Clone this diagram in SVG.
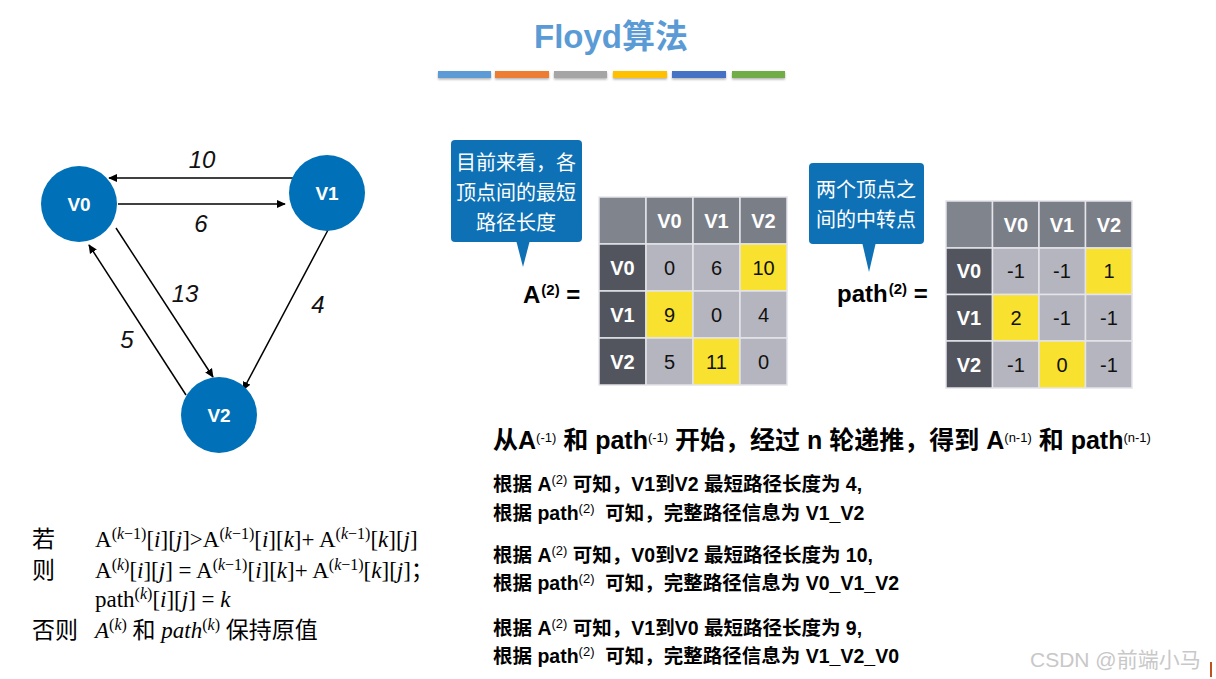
<svg xmlns="http://www.w3.org/2000/svg" width="1216" height="679" viewBox="0 0 1216 679">
<defs>
<marker id="arr" viewBox="0 0 10 10" refX="9" refY="5" markerWidth="9" markerHeight="9" markerUnits="userSpaceOnUse" orient="auto"><path d="M0,0.5 L10,5 L0,9.5 z" fill="#000"/></marker>
<filter id="sh" x="-10%" y="-50%" width="120%" height="250%"><feDropShadow dx="0" dy="1.5" stdDeviation="1" flood-color="#000" flood-opacity="0.3"/></filter>
</defs>
<style>
.sans{font-family:"Liberation Sans","Noto Sans CJK SC",sans-serif}
.serif{font-family:"Liberation Serif","Noto Sans CJK SC",serif}
.node{fill:#0071B8}
.nlab{font-family:"Liberation Sans",sans-serif;font-weight:bold;font-size:19px;fill:#fff;text-anchor:middle}
.elab{font-family:"Liberation Sans",sans-serif;font-style:italic;font-size:24px;fill:#111;text-anchor:middle}
.edge{stroke:#000;stroke-width:1.5;fill:none;marker-end:url(#arr)}
.call{fill:#0E71B5}
.ctxt{font-family:"Noto Sans CJK SC",sans-serif;font-size:20px;fill:#fff;text-anchor:middle}
.hd{fill:#7A7E87;stroke:#E4E4EA;stroke-width:1.5}
.rh{fill:#52555E;stroke:#E4E4EA;stroke-width:1.5}
.bd{fill:#B5B5BF;stroke:#E4E4EA;stroke-width:1.5}
.yl{fill:#F8E12F;stroke:#E4E4EA;stroke-width:1.5}
.ht{font-family:"Liberation Sans",sans-serif;font-weight:bold;font-size:20px;fill:#fff;text-anchor:middle}
.bt{font-family:"Liberation Sans",sans-serif;font-size:20px;fill:#111;text-anchor:middle}
.eq{font-family:"Liberation Sans",sans-serif;font-weight:bold;font-size:24px;fill:#000}
.big{font-weight:bold;font-size:25px;fill:#000}
.sm{font-weight:bold;font-size:19.5px;fill:#000}
.sup{font-weight:normal;font-size:13px}
.f{font-size:23px;fill:#000}
.fs{font-size:16px}
.i{font-style:italic}
</style>
<rect width="1216" height="679" fill="#fff"/>

<g id="title">
<text x="611" y="48" class="sans" font-size="33" font-weight="bold" fill="#5B9BD5" text-anchor="middle">Floyd算法</text>
<g filter="url(#sh)">
<rect x="438" y="71" width="53" height="7" fill="#5B9BD5"/>
<rect x="495" y="71" width="54" height="7" fill="#ED7D31"/>
<rect x="554" y="71" width="53" height="7" fill="#A5A5A5"/>
<rect x="613" y="71" width="54" height="7" fill="#FFC000"/>
<rect x="672" y="71" width="54" height="7" fill="#4472C4"/>
<rect x="732" y="71" width="53" height="7" fill="#70AD47"/>
</g>
</g>

<g id="connectors">
<line class="edge" x1="296" y1="178" x2="109" y2="178"/>
<line class="edge" x1="118" y1="204" x2="285" y2="204"/>
<line class="edge" x1="116" y1="228" x2="213" y2="377"/>
<line class="edge" x1="186" y1="395" x2="89" y2="245"/>
<line class="edge" x1="328" y1="230" x2="243" y2="390"/>
<text class="elab" x="202" y="168">10</text>
<text class="elab" x="201" y="232">6</text>
<text class="elab" x="185" y="302">13</text>
<text class="elab" x="318" y="313">4</text>
<text class="elab" x="127" y="348">5</text>
</g>

<g id="V0"><circle class="node" cx="79" cy="204" r="38"/><text class="nlab" x="79" y="211">V0</text></g>
<g id="V1"><circle class="node" cx="327" cy="193" r="38"/><text class="nlab" x="327" y="200">V1</text></g>
<g id="V2"><circle class="node" cx="219" cy="415" r="38"/><text class="nlab" x="219" y="422">V2</text></g>

<g id="callout-A">
<rect class="call" x="451" y="140" width="131" height="102" rx="4"/>
<path class="call" d="M516,240 L530,240 L523,267 z"/>
<text class="ctxt" x="516" y="170">目前来看，各</text>
<text class="ctxt" x="516" y="200">顶点间的最短</text>
<text class="ctxt" x="516" y="230">路径长度</text>
</g>

<g id="A-label">
<text class="eq" x="523" y="303">A<tspan font-size="15" baseline-shift="super" dx="1">(2)</tspan> =</text>
</g>

<g id="matrix-A">
<rect x="599" y="197" width="47" height="47" fill="#80848C" stroke="#E4E4EA" stroke-width="1.5"/>
<rect class="hd" x="646" y="197" width="47" height="47"/>
<rect class="hd" x="693" y="197" width="47" height="47"/>
<rect class="hd" x="740" y="197" width="47" height="47"/>
<rect class="rh" x="599" y="244" width="47" height="47"/>
<rect class="rh" x="599" y="291" width="47" height="47"/>
<rect class="rh" x="599" y="338" width="47" height="47"/>
<rect class="bd" x="646" y="244" width="47" height="47"/>
<rect class="bd" x="693" y="244" width="47" height="47"/>
<rect class="yl" x="740" y="244" width="47" height="47"/>
<rect class="yl" x="646" y="291" width="47" height="47"/>
<rect class="bd" x="693" y="291" width="47" height="47"/>
<rect class="bd" x="740" y="291" width="47" height="47"/>
<rect class="bd" x="646" y="338" width="47" height="47"/>
<rect class="yl" x="693" y="338" width="47" height="47"/>
<rect class="bd" x="740" y="338" width="47" height="47"/>
<text class="ht" x="669.5" y="228">V0</text>
<text class="ht" x="716.5" y="228">V1</text>
<text class="ht" x="763.5" y="228">V2</text>
<text class="ht" x="622.5" y="275">V0</text>
<text class="ht" x="622.5" y="322">V1</text>
<text class="ht" x="622.5" y="369">V2</text>
<text class="bt" x="669.5" y="275">0</text>
<text class="bt" x="716.5" y="275">6</text>
<text class="bt" x="763.5" y="275">10</text>
<text class="bt" x="669.5" y="322">9</text>
<text class="bt" x="716.5" y="322">0</text>
<text class="bt" x="763.5" y="322">4</text>
<text class="bt" x="669.5" y="369">5</text>
<text class="bt" x="716.5" y="369">11</text>
<text class="bt" x="763.5" y="369">0</text>
</g>

<g id="callout-path">
<rect class="call" x="809" y="163" width="115" height="81" rx="4"/>
<path class="call" d="M862,242 L876,242 L869,272 z"/>
<text class="ctxt" x="866" y="197">两个顶点之</text>
<text class="ctxt" x="866" y="227">间的中转点</text>
</g>

<g id="path-label">
<text class="eq" x="837" y="302">path<tspan font-size="15" baseline-shift="super" dx="1">(2)</tspan> =</text>
</g>

<g id="matrix-path">
<rect x="946" y="201" width="46.5" height="47" fill="#80848C" stroke="#E4E4EA" stroke-width="1.5"/>
<rect class="hd" x="992.5" y="201" width="46.5" height="47"/>
<rect class="hd" x="1039" y="201" width="46.5" height="47"/>
<rect class="hd" x="1085.5" y="201" width="46.5" height="47"/>
<rect class="rh" x="946" y="248" width="46.5" height="46.5"/>
<rect class="rh" x="946" y="294.5" width="46.5" height="46.5"/>
<rect class="rh" x="946" y="341" width="46.5" height="47"/>
<rect class="bd" x="992.5" y="248" width="46.5" height="46.5"/>
<rect class="bd" x="1039" y="248" width="46.5" height="46.5"/>
<rect class="yl" x="1085.5" y="248" width="46.5" height="46.5"/>
<rect class="yl" x="992.5" y="294.5" width="46.5" height="46.5"/>
<rect class="bd" x="1039" y="294.5" width="46.5" height="46.5"/>
<rect class="bd" x="1085.5" y="294.5" width="46.5" height="46.5"/>
<rect class="bd" x="992.5" y="341" width="46.5" height="47"/>
<rect class="yl" x="1039" y="341" width="46.5" height="47"/>
<rect class="bd" x="1085.5" y="341" width="46.5" height="47"/>
<text class="ht" x="1016" y="232">V0</text>
<text class="ht" x="1062" y="232">V1</text>
<text class="ht" x="1109" y="232">V2</text>
<text class="ht" x="969" y="278">V0</text>
<text class="ht" x="969" y="325">V1</text>
<text class="ht" x="969" y="372">V2</text>
<text class="bt" x="1016" y="278">-1</text>
<text class="bt" x="1062" y="278">-1</text>
<text class="bt" x="1109" y="278">1</text>
<text class="bt" x="1016" y="325">2</text>
<text class="bt" x="1062" y="325">-1</text>
<text class="bt" x="1109" y="325">-1</text>
<text class="bt" x="1016" y="372">-1</text>
<text class="bt" x="1062" y="372">0</text>
<text class="bt" x="1109" y="372">-1</text>
</g>

<g id="summary" class="sans">
<text class="big" x="493" y="449">从A<tspan class="sup" font-size="15" baseline-shift="super">(-1)</tspan> 和 path<tspan class="sup" font-size="15" baseline-shift="super">(-1)</tspan> 开始，经过 n 轮递推，得到 A<tspan class="sup" font-size="15" baseline-shift="super">(n-1)</tspan> 和 path<tspan class="sup" font-size="15" baseline-shift="super">(n-1)</tspan></text>
<text class="sm" x="493" y="491">根据 A<tspan class="sup" baseline-shift="super">(2)</tspan> 可知，V1到V2 最短路径长度为 4,</text>
<text class="sm" x="493" y="520">根据 path<tspan class="sup" baseline-shift="super">(2)</tspan>&#160; 可知，完整路径信息为 V1_V2</text>
<text class="sm" x="493" y="562">根据 A<tspan class="sup" baseline-shift="super">(2)</tspan> 可知，V0到V2 最短路径长度为 10,</text>
<text class="sm" x="493" y="590">根据 path<tspan class="sup" baseline-shift="super">(2)</tspan>&#160; 可知，完整路径信息为 V0_V1_V2</text>
<text class="sm" x="493" y="635">根据 A<tspan class="sup" baseline-shift="super">(2)</tspan> 可知，V1到V0 最短路径长度为 9,</text>
<text class="sm" x="493" y="663">根据 path<tspan class="sup" baseline-shift="super">(2)</tspan>&#160; 可知，完整路径信息为 V1_V2_V0</text>
</g>

<g id="formula" class="serif">
<text class="f" x="32" y="547">若</text>
<text class="f" x="95" y="547">A<tspan class="fs" baseline-shift="super">(<tspan class="i">k</tspan>−1)</tspan>[<tspan class="i">i</tspan>][<tspan class="i">j</tspan>]&gt;A<tspan class="fs" baseline-shift="super">(<tspan class="i">k</tspan>−1)</tspan>[<tspan class="i">i</tspan>][<tspan class="i">k</tspan>]+ A<tspan class="fs" baseline-shift="super">(<tspan class="i">k</tspan>−1)</tspan>[<tspan class="i">k</tspan>][<tspan class="i">j</tspan>]</text>
<text class="f" x="32" y="578">则</text>
<text class="f" x="95" y="578">A<tspan class="fs" baseline-shift="super">(<tspan class="i">k</tspan>)</tspan>[<tspan class="i">i</tspan>][<tspan class="i">j</tspan>] = A<tspan class="fs" baseline-shift="super">(<tspan class="i">k</tspan>−1)</tspan>[<tspan class="i">i</tspan>][<tspan class="i">k</tspan>]+ A<tspan class="fs" baseline-shift="super">(<tspan class="i">k</tspan>−1)</tspan>[<tspan class="i">k</tspan>][<tspan class="i">j</tspan>]；</text>
<text class="f" x="95" y="607">path<tspan class="fs" baseline-shift="super">(<tspan class="i">k</tspan>)</tspan>[<tspan class="i">i</tspan>][<tspan class="i">j</tspan>] = <tspan class="i">k</tspan></text>
<text class="f" x="32" y="638">否则</text>
<text class="f" x="95" y="638"><tspan class="i">A</tspan><tspan class="fs" baseline-shift="super">(<tspan class="i">k</tspan>)</tspan> 和 <tspan class="i">path</tspan><tspan class="fs" baseline-shift="super">(<tspan class="i">k</tspan>)</tspan> 保持原值</text>
</g>

<g id="watermark">
<text x="1030" y="667" class="sans" font-size="21" fill="#C8C8C8">CSDN @前端小马</text>
<rect x="1210" y="662" width="2" height="15" fill="#C0501E"/>
</g>
</svg>
